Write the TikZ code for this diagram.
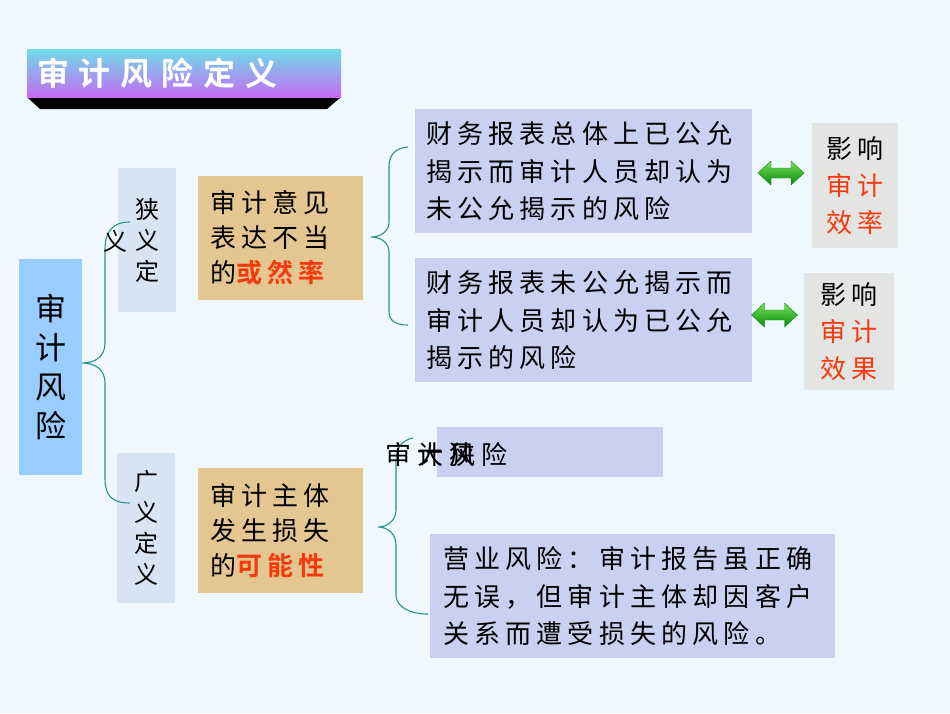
\documentclass[tikz,border=0pt]{standalone}
\usepackage{fontspec}
\newfontfamily\cjk[LetterSpace=20]{Noto Sans CJK SC}
\newfontfamily\cjkbold[LetterSpace=20]{Noto Sans CJK SC Bold}
\newfontfamily\cjkplain{Noto Sans CJK SC}
\newfontfamily\cjktitle[LetterSpace=30]{Noto Sans CJK SC Bold}
\definecolor{bgc}{HTML}{F0F8FF}
\definecolor{rootblue}{HTML}{99CCFF}
\definecolor{paleblue}{HTML}{D6E4F3}
\definecolor{tan}{HTML}{E3C690}
\definecolor{lav}{HTML}{C8D1EF}
\definecolor{grayb}{HTML}{E4E4E2}
\definecolor{hlred}{HTML}{F53A0E}
\definecolor{bracec}{HTML}{2F8F8F}
\definecolor{titletop}{HTML}{6EDCE8}
\definecolor{titlebot}{HTML}{C46CF2}
\definecolor{arrlight}{HTML}{7AE060}
\definecolor{arrdark}{HTML}{078A07}
\newcommand{\redbold}[1]{{\color{hlred}\cjkbold #1}}
\newcommand{\redtext}[1]{{\color{hlred}#1}}
\newcommand{\cell}[1]{\makebox[32pt][l]{#1}}
\tikzset{
  stackbox/.style={align=center, inner sep=0pt},
  textbox/.style={anchor=north west, align=left, inner ysep=0pt},
  tanbox/.style={textbox, fill=tan, font=\cjk\fontsize{26}{35}\selectfont},
  lavbox/.style={textbox, fill=lav, font=\cjk\fontsize{26}{37.5}\selectfont},
  graybox/.style={stackbox, fill=grayb, font=\cjk\fontsize{26}{37}\selectfont},
  bracepath/.style={draw=bracec, line width=1.1pt},
  dblarr/.pic={\shade[top color=arrlight, bottom color=arrdark, draw=arrdark, line width=0.4pt]
     (-23,0) -- (-10,-12) -- (-10,-5) -- (10,-5) -- (10,-12) -- (23,0) -- (10,12) -- (10,5) -- (-10,5) -- (-10,12) -- cycle;}
}
\begin{document}
\begin{tikzpicture}[x=1pt,y=-1pt]
\useasboundingbox (0,0) rectangle (950,713);
\fill[bgc] (0,0) rectangle (950,713);

% title
\fill[black] (27,97) -- (341,97) -- (327,109) -- (40,109) -- cycle;
\node[anchor=north west, minimum width=314pt, minimum height=48pt, inner xsep=10pt,
      text width=294pt, align=left, top color=titletop, bottom color=titlebot,
      font=\cjktitle\fontsize{32}{32}\selectfont, text=white] (title) at (27,49) {审计风险定义};

% left column
\node[stackbox, fill=rootblue, minimum width=63pt, minimum height=216pt,
      font=\cjkplain\fontsize{31}{39}\selectfont] (root) at (50.5,367) {审\\计\\风\\险};
\node[stackbox, fill=paleblue, minimum width=58pt, minimum height=144pt,
      font=\cjkplain\fontsize{24}{31}\selectfont] (narrow) at (147,240) {狭\\义\\定};
\node[stackbox, fill=paleblue, minimum width=58pt, minimum height=150pt,
      font=\cjkplain\fontsize{24}{31}\selectfont] (broad) at (146,528) {广\\义\\定\\义};

% tan boxes
\node[tanbox, text width=141pt, inner xsep=12pt, minimum height=124pt] (opinion) at (198,176)
  {审计意见\\表达不当\\的\redbold{或然率}};
\node[tanbox, text width=141pt, inner xsep=12pt, minimum height=125pt] (loss) at (198,468)
  {审计主体\\发生损失\\的\redbold{可能性}};

% lavender boxes
\node[lavbox, text width=315pt, inner xsep=11pt, minimum height=124pt] (fsA) at (415,109)
  {财务报表总体上已公允\\揭示而审计人员却认为\\未公允揭示的风险};
\node[lavbox, text width=315pt, inner xsep=11pt, minimum height=124pt] (fsB) at (415,258)
  {财务报表未公允揭示而\\审计人员却认为已公允\\揭示的风险};
\node[lavbox, minimum width=226pt, minimum height=50pt, inner sep=0pt] (arbox) at (437,427) {};
\node[lavbox, text width=379pt, inner xsep=13pt, minimum height=124pt] (biz) at (430,534)
  {营业风险：审计报告虽正确\\无误，但审计主体却因客户\\关系而遭受损失的风险。};

% impact boxes
\node[graybox, minimum width=86pt, minimum height=125pt] (impA) at (855,185.5)
  {影响\\\redtext{审计}\\\redtext{效率}};
\node[graybox, minimum width=90pt, minimum height=117pt] (impB) at (849,331.5)
  {影响\\\redtext{审计}\\\redtext{效果}};

% green double arrows
\coordinate (arrA) at (781,173);
\coordinate (arrB) at (774.5,315);
\pic at (arrA) {dblarr};
\pic at (arrB) {dblarr};

% braces
\coordinate (b1t) at (130,222);
\coordinate (b1m) at (82,363);
\coordinate (b1b) at (130,503);
\draw[bracepath] (b1t) .. controls (112,222) and (105,232) .. (105,250) -- (105,343)
  .. controls (105,356) and (96,363) .. (b1m)
  .. controls (96,363) and (105,370) .. (105,383) -- (105,478)
  .. controls (105,496) and (112,503) .. (b1b);

\coordinate (b2t) at (408,147);
\coordinate (b2m) at (371,237);
\coordinate (b2b) at (408,325);
\draw[bracepath] (b2t) .. controls (395,148) and (389,155) .. (389,167) -- (389,222)
  .. controls (389,232) and (380,237) .. (b2m)
  .. controls (380,237) and (389,242) .. (389,252) -- (389,312)
  .. controls (389,320) and (395,325) .. (b2b);

\coordinate (b3t) at (413,438);
\coordinate (b3m) at (378,527);
\coordinate (b3b) at (428,614);
\draw[bracepath] (b3t) .. controls (402,440) and (396,448) .. (396,460) -- (396,510)
  .. controls (396,520) and (388,527) .. (b3m)
  .. controls (388,527) and (396,534) .. (396,545) -- (396,595)
  .. controls (396,607) and (410,614) .. (b3b);

% overlapping glyphs, as printed in the reference
\node[anchor=west, inner sep=0pt, font=\cjkplain\fontsize{26}{26}\selectfont] (artext) at (385,455)
  {\cell{审}\cell{\rlap{计}大}\cell{\rlap{风}狭}\cell{险}};
\node[inner sep=0pt, font=\cjkplain\fontsize{24}{24}\selectfont] (stray) at (115,241) {义};
\end{tikzpicture}
\end{document}
